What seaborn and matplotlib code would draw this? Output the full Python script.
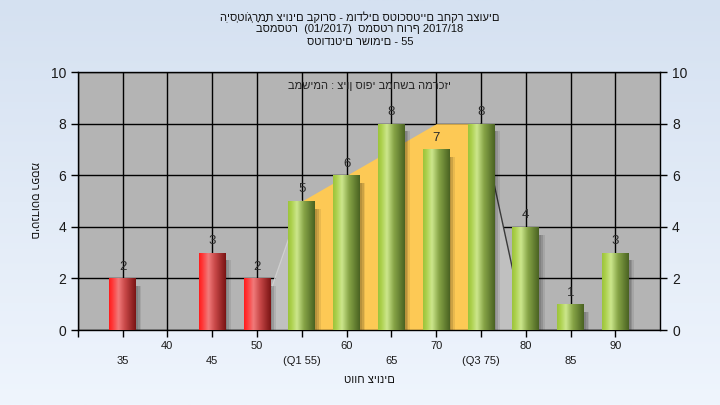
import numpy as np
import pandas as pd
import seaborn as sns
import matplotlib.pyplot as plt
import matplotlib.patches as mpatches
from matplotlib.colors import LinearSegmentedColormap

# data
grades = [35, 45, 50, 55, 60, 65, 70, 75, 80, 85, 90]
counts = [2, 3, 2, 5, 6, 8, 7, 8, 4, 1, 3]
passed = [False, False, False, True, True, True, True, True, True, True, True]

# quartile area (line through the bars between Q1 and Q3)
area_x = [50, 55, 60, 65, 70, 75, 80]
area_y = [0, 5, 6, 7, 8, 8, 0]

upper_ticks = [40, 50, 60, 70, 80, 90]
upper_labels = ['40', '50', '60', '70', '80', '90']
lower_ticks = [35, 45, 55, 65, 75, 85]
lower_labels = ['35', '45', '(Q1 55)', '65', '(Q3 75)', '85']

title_lines = ['הִיסְטוֹגְרָמַת ציונים בקורס - מודלים סטוכסטיים בחקר בצועים',
               'בסמסטר  (01/2017)  סמסטר חורף 2017/18',
               'סטודנטים רשומים - 55']
note = 'במשימה : ציון סופי במחשב המרכזי'
xlabel = 'טווח ציונים'
ylabel = 'מספר סטודנטים'

sns.set_theme(style='white')
plt.rcParams['font.family'] = ['Liberation Sans', 'DejaVu Sans']

df = pd.DataFrame({'grade': grades, 'count': counts, 'passed': passed})

fig = plt.figure(figsize=(7.2, 4.05), dpi=100)

# light blue background gradient
bg = fig.add_axes([0, 0, 1, 1], zorder=-10)
bg_cmap = LinearSegmentedColormap.from_list('bg', ['#d5e1f1', '#eff5fd'])
bg.imshow(np.linspace(0, 1, 256)[:, None], aspect='auto', cmap=bg_cmap, extent=[0, 1, 0, 1])
bg.axis('off')

ax = fig.add_axes([0.108, 0.185, 0.809, 0.637])
ax.set_facecolor('#b4b4b4')

# area: light grey outside the quartiles, yellow inside
ax.fill_between(area_x[0:2], area_y[0:2], color='#c0c0c0', lw=0, zorder=2)
ax.fill_between(area_x[5:7], area_y[5:7], color='#c0c0c0', lw=0, zorder=2)
ax.fill_between(area_x[1:6], area_y[1:6], color='#fdc955', lw=0, zorder=2)
ax.plot(area_x[0:2], area_y[0:2], color='#cfcfcf', lw=1, zorder=2.1)
ax.plot(area_x[5:7], area_y[5:7], color='#3a3a3a', lw=1, zorder=2.1)

sns.barplot(data=df, x='grade', y='count', native_scale=True, width=0.6,
            color='#a0c850', saturation=1, ax=ax, zorder=3)

red_cmap = LinearSegmentedColormap.from_list(
    'r', [(0, '#ff1c1c'), (0.12, '#ff3838'), (0.35, '#f07a7a'), (0.6, '#c84848'), (1, '#7a1414')])
green_cmap = LinearSegmentedColormap.from_list(
    'g', [(0, '#9cc43c'), (0.12, '#acd04c'), (0.33, '#cce68c'), (0.6, '#86a446'), (1, '#4a6322')])
grad = np.linspace(0, 1, 64)[None, :]

for p, c, ok in zip(ax.patches, counts, passed):
    x0, w, h = p.get_x(), p.get_width(), p.get_height()
    # soft shadow
    for dx, a in [(0.2, 0.1), (0.4, 0.12), (0.6, 0.08)]:
        ax.add_patch(mpatches.Rectangle((x0 + dx, 0), w, h - 0.3, color='black',
                                        alpha=a, lw=0, zorder=2.5))
    im = ax.imshow(grad, cmap=red_cmap if not ok else green_cmap, aspect='auto',
                   extent=[x0, x0 + w, 0, h], zorder=3.2)
    im.set_clip_path(p)
    p.set_facecolor('none')
    p.set_edgecolor('none')
    ax.text(x0 + w / 2, h + 0.22, str(c), ha='center', va='bottom', fontsize=9.5,
            color='#2a2a2a', zorder=4)

ax.set_xlim(30, 95)
ax.set_ylim(0, 10)
ax.set_xticks([30] + upper_ticks)
ax.set_xticklabels([''] + upper_labels)
ax.set_xticks(lower_ticks, minor=True)
ax.set_xticklabels(lower_labels, minor=True)
ax.set_yticks(range(0, 11, 2))
ax.tick_params(axis='x', which='major', length=5, pad=3, labelsize=8, color='black', labelcolor='#1a1a1a')
ax.tick_params(axis='x', which='minor', length=5, pad=14, labelsize=8, color='black', labelcolor='#1a1a1a')
ax.tick_params(axis='x', which='both', bottom=True, direction='out', width=1)
ax.tick_params(axis='y', left=True, length=5, width=1, labelsize=10, color='black', labelcolor='#1a1a1a')
ax.set_xlabel('')
ax.set_ylabel('')

ax.grid(True, axis='x', which='both', color='black', lw=1, zorder=1)
ax.grid(True, axis='y', which='major', color='black', lw=1, zorder=1)
ax.set_axisbelow(True)
for s in ax.spines.values():
    s.set_color('black')
    s.set_linewidth(1)

ax2 = ax.twinx()
ax2.set_ylim(0, 10)
ax2.set_yticks(range(0, 11, 2))
ax2.tick_params(axis='y', right=True, length=5, width=1, labelsize=10, color='black', labelcolor='#1a1a1a')
ax2.grid(False)
for s in ax2.spines.values():
    s.set_visible(False)

ax.text(0.5, 0.945, note, transform=ax.transAxes, ha='center', va='center',
        fontsize=8, color='#222222', zorder=5)

for i, line in enumerate(title_lines):
    fig.text(0.5, 1 - (17 + 12.5 * i) / 405, line, ha='center', va='center',
             fontsize=8, color='#111111')

fig.text(0.5125, 1 - 380 / 405, xlabel, ha='center', va='center', fontsize=8, color='#111111')
fig.text(0.047, 0.506, ylabel, rotation=270, ha='center', va='center', fontsize=8, color='#111111')

fig.savefig('out.png', dpi=100)
